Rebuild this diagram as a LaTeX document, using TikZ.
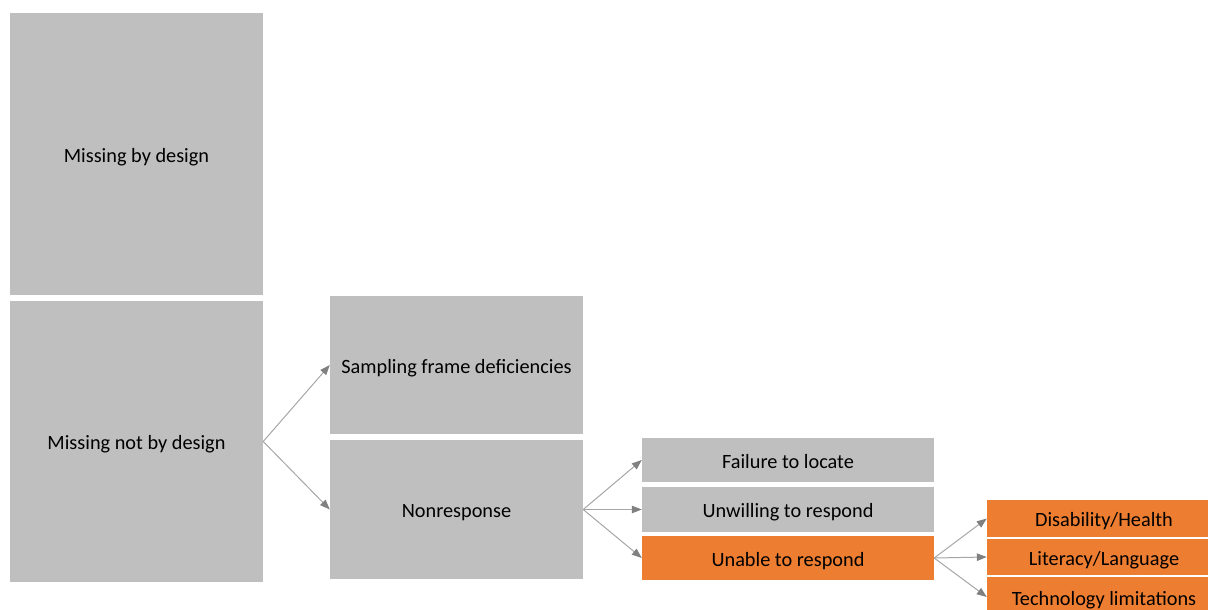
\documentclass[tikz,border=0pt]{standalone}
\usepackage{fontspec}
\setmainfont{Carlito}
\usetikzlibrary{positioning,arrows.meta}
\definecolor{boxgray}{HTML}{BFBFBF}
\definecolor{accent}{HTML}{ED7D31}
\definecolor{linegray}{HTML}{A6A6A6}
\definecolor{headgray}{HTML}{808080}
\tikzset{
  gbox/.style={rectangle,fill=boxgray,inner sep=0pt,align=center,
    text height=17pt,text depth=1pt,font=\fontsize{20.3}{24}\selectfont},
  obox/.style={gbox,fill=accent},
  conn/.style={-{Triangle[length=10pt,width=7.5pt,color=headgray]},draw=linegray,line width=1pt},
}

\begin{document}
\begin{tikzpicture}[x=1pt,y=-1pt]
  \useasboundingbox (0,0) rectangle (1208,610);
  % first level
  \node[gbox,minimum width=253pt,minimum height=282pt] (bydes) at (136.5,154) {Missing by design};
  \node[gbox,minimum width=253pt,minimum height=281pt] (notdes) at (136.5,441.5) {Missing not by design};
  % second level
  \node[gbox,minimum width=253pt,minimum height=138pt] (frame) at (456.5,365) {Sampling frame deficiencies};
  \node[gbox,minimum width=253pt,minimum height=139pt] (nonresp) at (456.5,509.5) {Nonresponse};
  % third level
  \node[gbox,minimum width=292pt,minimum height=44pt] (locate) at (788,460) {Failure to locate};
  \node[gbox,minimum width=292pt,minimum height=45pt] (unwill) at (788,509.5) {Unwilling to respond};
  \node[obox,minimum width=292pt,minimum height=44pt] (unable) at (788,558) {Unable to respond};
  % fourth level (runs past the page edge)
  \node[obox,minimum width=234pt,minimum height=37pt] (health) at (1104,518.5) {Disability/Health};
  \node[obox,minimum width=234pt,minimum height=36pt] (lang) at (1104,557) {Literacy/Language};
  \node[obox,minimum width=234pt,minimum height=40pt] (tech) at (1104,597) {Technology limitations};
  % connectors
  \draw[conn] (notdes.east) -- (frame.west);
  \draw[conn] (notdes.east) -- (nonresp.west);
  \foreach \t in {locate,unwill,unable}{\draw[conn] (nonresp.east) -- (\t.west);}
  \foreach \t in {health,lang,tech}{\draw[conn] (unable.east) -- (\t.west);}
\end{tikzpicture}
\end{document}
